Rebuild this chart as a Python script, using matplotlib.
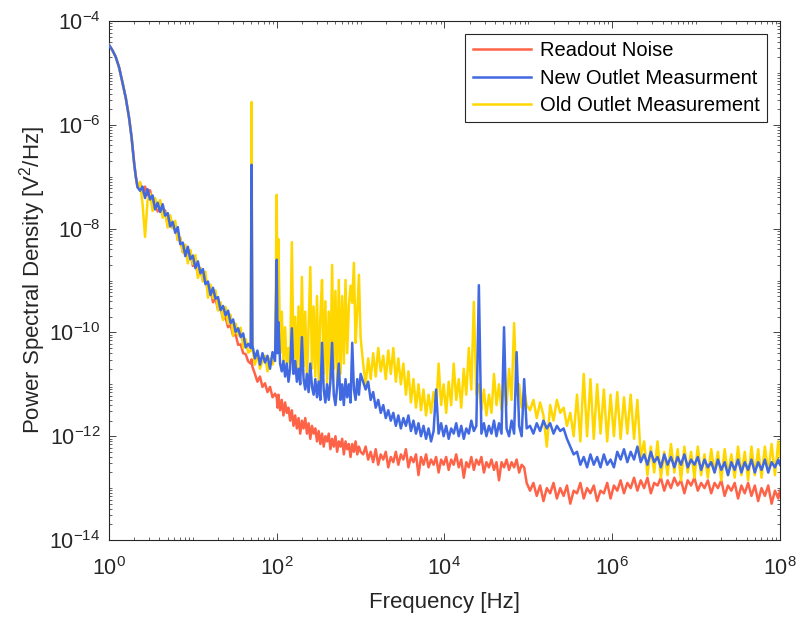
import matplotlib
matplotlib.use('Agg')
import matplotlib.pyplot as plt
import numpy as np
from matplotlib.ticker import FixedLocator, LogLocator, LogFormatterMathtext, NullFormatter

plt.rcParams['font.family'] = ['Liberation Sans', 'DejaVu Sans']
plt.rcParams['mathtext.fontset'] = 'custom'
plt.rcParams['mathtext.rm'] = 'Liberation Sans'
plt.rcParams['mathtext.it'] = 'Liberation Sans:italic'
plt.rcParams['mathtext.default'] = 'regular'
plt.rcParams['axes.unicode_minus'] = False

# frequency, as log10(Hz)
freq_exp = [
    0.00, 0.04, 0.08, 0.12, 0.16, 0.20, 0.24, 0.27, 0.30, 0.32, 0.34,
    0.37, 0.40, 0.43, 0.46, 0.49, 0.52, 0.55, 0.58, 0.61, 0.64, 0.67,
    0.70, 0.73, 0.76, 0.79, 0.82, 0.85, 0.88, 0.91, 0.94, 0.97, 1.00,
    1.03, 1.06, 1.09, 1.12, 1.15, 1.18, 1.21, 1.24, 1.27, 1.30, 1.33,
    1.36, 1.39, 1.42, 1.45, 1.48, 1.51, 1.54, 1.57, 1.60, 1.63, 1.66,
    1.69, 1.70, 1.71,
    1.74, 1.77, 1.80, 1.83, 1.86, 1.89, 1.92, 1.95, 1.98,
    2.00, 2.01, 2.02, 2.04, 2.06, 2.08, 2.10, 2.12, 2.14, 2.16,
    2.18, 2.20, 2.22, 2.24, 2.26, 2.28, 2.30, 2.32, 2.34, 2.36,
    2.38, 2.40, 2.42, 2.44, 2.46, 2.48, 2.50, 2.52, 2.54, 2.56,
    2.58, 2.60, 2.62, 2.64, 2.66, 2.68, 2.70, 2.72, 2.74, 2.76,
    2.78, 2.80, 2.82, 2.84, 2.86, 2.88, 2.90, 2.92, 2.94, 2.96,
    2.98, 3.00,
    3.03, 3.06, 3.09, 3.12, 3.15, 3.18, 3.21, 3.24, 3.27, 3.30,
    3.33, 3.36, 3.39, 3.42, 3.45, 3.48, 3.51, 3.54, 3.57, 3.60,
    3.63, 3.66, 3.69, 3.72, 3.75, 3.78, 3.81, 3.84, 3.87, 3.90,
    3.93, 3.96, 3.99, 4.02, 4.05, 4.08, 4.11, 4.14, 4.17, 4.20,
    4.23, 4.26, 4.29, 4.32, 4.35, 4.38, 4.41, 4.44, 4.47, 4.50,
    4.53, 4.56, 4.59, 4.62, 4.65, 4.68, 4.71, 4.74, 4.77, 4.80,
    4.83, 4.86, 4.89, 4.92, 4.95, 4.98,
    5.02, 5.06, 5.10, 5.14, 5.18, 5.22, 5.26, 5.30, 5.34, 5.38,
    5.42, 5.46, 5.50, 5.54, 5.58, 5.62, 5.66, 5.70, 5.74, 5.78,
    5.82, 5.86, 5.90, 5.94, 5.98, 6.02, 6.06, 6.10, 6.14, 6.18,
    6.22, 6.26, 6.30, 6.34, 6.38, 6.42, 6.46, 6.50, 6.54, 6.58,
    6.62, 6.66, 6.70, 6.74, 6.78, 6.82, 6.86, 6.90, 6.94, 6.98,
    7.02, 7.06, 7.10, 7.14, 7.18, 7.22, 7.26, 7.30, 7.34, 7.38,
    7.42, 7.46, 7.50, 7.54, 7.58, 7.62, 7.66, 7.70, 7.74, 7.78,
    7.82, 7.86, 7.90, 7.94, 7.98, 8.00,
]

# PSD as log10(V^2/Hz)
readout_exp = [
    -4.46, -4.56, -4.69, -4.89, -5.18, -5.48, -5.87, -6.25, -6.74, -7.00, -7.20,
    -7.12, -7.32, -7.19, -7.36, -7.26, -7.54, -7.45, -7.67, -7.50, -7.71, -7.65,
    -7.95, -7.81, -7.99, -7.91, -8.22, -8.19, -8.45, -8.34, -8.56, -8.43, -8.72,
    -8.64, -8.89, -8.76, -9.00, -8.95, -9.21, -9.14, -9.42, -9.35, -9.56, -9.52,
    -9.74, -9.71, -9.90, -9.86, -10.06, -10.04, -10.24, -10.23, -10.40, -10.42, -10.56,
    -10.60, -10.52, -10.66,
    -10.80, -10.95, -10.85, -11.05, -10.98, -11.15, -11.05, -11.25, -11.18,
    -11.25, -11.45, -11.20, -11.50, -11.30, -11.60, -11.35, -11.55, -11.45, -11.70,
    -11.50, -11.80, -11.60, -11.85, -11.65, -11.95, -11.70, -11.85, -11.65, -11.95,
    -11.75, -12.05, -11.80, -11.95, -11.85, -12.10, -11.90, -12.15, -11.95, -12.20,
    -12.00, -12.10, -11.95, -12.25, -12.05, -12.20, -12.00, -12.30, -12.10, -12.20,
    -12.05, -12.35, -12.10, -12.25, -12.15, -12.40, -12.15, -12.30, -12.10, -12.35,
    -12.20, -12.30,
    -12.35, -12.20, -12.45, -12.30, -12.50, -12.25, -12.55, -12.35, -12.45, -12.30,
    -12.60, -12.40, -12.50, -12.30, -12.55, -12.35, -12.45, -12.25, -12.60, -12.40,
    -12.50, -12.35, -12.75, -12.40, -12.55, -12.35, -12.60, -12.45, -12.55, -12.40,
    -12.70, -12.45, -12.55, -12.40, -12.65, -12.45, -12.55, -12.35, -12.60, -12.45,
    -12.80, -12.50, -12.60, -12.40, -12.65, -12.45, -12.55, -12.40, -12.70, -12.50,
    -12.60, -12.45, -12.65, -12.50, -12.85, -12.50, -12.60, -12.45, -12.65, -12.50,
    -12.60, -12.45, -12.70, -12.55, -12.60, -12.90,
    -13.05, -12.90, -13.15, -12.95, -13.25, -13.00, -13.10, -12.90, -13.20, -13.00,
    -13.15, -12.95, -13.30, -13.05, -13.10, -12.90, -13.20, -13.00, -13.10, -12.95,
    -13.25, -13.05, -13.10, -12.90, -13.20, -12.95, -13.05, -12.85, -13.10, -12.90,
    -13.00, -12.80, -13.05, -12.85, -13.00, -12.80, -13.10, -12.90, -12.95, -12.80,
    -13.05, -12.85, -13.00, -12.80, -12.95, -12.85, -13.10, -12.85, -12.95, -12.80,
    -13.05, -12.90, -13.00, -12.85, -13.10, -12.90, -13.00, -12.85, -13.15, -12.95,
    -13.05, -12.90, -13.20, -12.95, -13.10, -12.90, -13.15, -12.95, -13.25, -13.00,
    -13.15, -12.95, -13.30, -13.05, -13.20, -13.05,
]

new_outlet_exp = [
    -4.46, -4.56, -4.69, -4.89, -5.18, -5.48, -5.87, -6.25, -6.74, -7.00, -7.20,
    -7.27, -7.19, -7.41, -7.24, -7.44, -7.36, -7.63, -7.50, -7.68, -7.53, -7.75,
    -7.70, -7.96, -7.87, -8.08, -7.97, -8.30, -8.27, -8.53, -8.35, -8.59, -8.52,
    -8.76, -8.63, -8.86, -8.78, -9.07, -9.02, -9.28, -9.14, -9.35, -9.32, -9.57,
    -9.49, -9.67, -9.58, -9.82, -9.75, -9.99, -9.92, -10.09, -10.02, -10.29, -10.22,
    -10.30, -6.77, -10.25,
    -10.50, -10.35, -10.62, -10.40, -10.58, -10.45, -10.70, -10.38, -10.55,
    -8.60, -10.40, -9.80, -10.60, -10.75, -10.55, -10.85, -10.60, -10.95, -10.70,
    -9.92, -10.80, -10.55, -10.95, -10.70, -11.00, -10.09, -10.90, -11.10, -10.80,
    -11.15, -10.60, -11.05, -11.20, -10.90, -11.25, -10.95, -11.30, -10.20, -11.10,
    -11.35, -11.00, -11.30, -10.95, -10.20, -11.20, -11.40, -11.05, -10.60, -11.30,
    -11.00, -11.40, -10.90, -11.25, -11.00, -11.35, -10.20, -11.10, -11.30, -10.90,
    -11.20, -10.80,
    -10.95, -11.10, -10.95, -11.30, -11.15, -11.45, -11.30, -11.55, -11.40, -11.65,
    -11.50, -11.70, -11.55, -11.80, -11.60, -11.85, -11.65, -11.80, -11.60, -11.90,
    -11.70, -11.95, -11.75, -12.00, -11.80, -12.05, -11.85, -12.10, -11.90, -11.10,
    -11.95, -11.75, -12.00, -11.80, -12.05, -11.85, -11.95, -11.75, -12.00, -11.80,
    -12.05, -11.85, -11.95, -11.70, -11.90, -11.80, -9.09, -11.95, -11.75, -12.00,
    -11.80, -11.95, -11.70, -12.00, -11.75, -11.95, -9.90, -11.85, -12.00, -11.70,
    -11.95, -10.38, -11.80, -12.00, -10.90, -11.85,
    -11.80, -11.95, -11.75, -11.90, -11.70, -11.85, -11.75, -11.95, -11.80, -11.90,
    -11.85, -12.05, -12.20, -12.35, -12.30, -12.55, -12.40, -12.60, -12.35, -12.55,
    -12.40, -12.60, -12.35, -12.55, -12.45, -12.60, -12.30, -12.45, -12.25, -12.50,
    -12.30, -12.45, -12.20, -12.50, -12.35, -12.55, -12.30, -12.50, -12.40, -12.60,
    -12.35, -12.55, -12.40, -12.60, -12.40, -12.55, -12.35, -12.60, -12.45, -12.55,
    -12.40, -12.65, -12.45, -12.60, -12.50, -12.70, -12.45, -12.65, -12.50, -12.75,
    -12.50, -12.65, -12.45, -12.70, -12.50, -12.65, -12.45, -12.70, -12.50, -12.65,
    -12.45, -12.70, -12.50, -12.60, -12.45, -12.55,
]

old_outlet_exp = [
    -4.46, -4.56, -4.69, -4.89, -5.18, -5.48, -5.87, -6.25, -6.74, -7.00, -7.20,
    -7.10, -7.52, -8.16, -7.46, -7.33, -7.66, -7.41, -7.60, -7.45, -7.79, -7.68,
    -7.98, -7.74, -7.99, -7.85, -8.22, -8.17, -8.46, -8.31, -8.67, -8.41, -8.68,
    -8.51, -8.95, -8.76, -9.02, -8.83, -9.33, -9.08, -9.34, -9.19, -9.58, -9.42,
    -9.76, -9.51, -9.83, -9.66, -10.06, -9.83, -10.06, -9.91, -10.30, -10.13, -10.39,
    -10.35, -5.56, -10.30,
    -10.62, -10.40, -10.70, -10.55, -10.45, -10.75, -10.50, -10.62, -10.45,
    -7.35, -10.30, -8.20, -10.40, -9.60, -10.55, -9.90, -10.70, -10.30, -10.60,
    -8.26, -10.50, -9.70, -10.75, -9.50, -10.80, -8.93, -10.65, -9.60, -10.90,
    -9.90, -8.74, -10.70, -9.50, -10.85, -9.30, -10.95, -9.70, -8.99, -10.80,
    -9.40, -11.00, -9.60, -10.90, -8.70, -10.70, -9.20, -10.95, -8.99, -10.80,
    -9.30, -10.60, -8.99, -10.40, -9.50, -9.10, -9.43, -8.66, -10.20, -9.60,
    -8.89, -10.10,
    -10.60, -11.00, -10.50, -10.90, -10.40, -10.85, -10.30, -10.75, -10.45, -10.90,
    -10.35, -10.80, -10.30, -10.95, -10.50, -11.00, -10.60, -11.20, -10.75, -11.35,
    -10.90, -11.45, -11.00, -11.50, -11.10, -11.60, -11.20, -11.55, -11.15, -11.50,
    -10.60, -11.40, -11.00, -11.55, -10.95, -11.40, -10.60, -11.30, -10.90, -11.45,
    -10.70, -11.20, -10.30, -11.10, -9.41, -11.20, -11.00, -11.50, -11.10, -11.60,
    -11.20, -11.55, -10.80, -11.40, -11.00, -11.50, -10.90, -11.40, -10.70, -11.30,
    -9.82, -11.20, -11.00, -11.45, -11.10, -11.40,
    -11.50, -11.30, -11.65, -11.35, -11.60, -12.20, -11.40, -11.70, -11.30, -11.55,
    -11.45, -11.80, -11.55, -12.00, -11.20, -12.10, -10.80, -12.00, -10.90, -12.05,
    -11.00, -11.95, -11.10, -12.10, -11.20, -12.00, -11.15, -12.05, -11.25, -11.95,
    -11.20, -12.05, -11.30, -12.40, -12.10, -12.75, -12.20, -12.70, -12.10, -12.80,
    -12.30, -12.75, -12.15, -12.70, -12.25, -12.85, -12.20, -12.70, -12.30, -12.80,
    -12.20, -12.75, -12.35, -12.80, -12.25, -12.70, -12.30, -12.85, -12.25, -12.75,
    -12.35, -12.80, -12.20, -12.75, -12.30, -12.85, -12.20, -12.75, -12.25, -12.80,
    -12.20, -12.70, -12.15, -12.75, -12.10, -12.40,
]

labels = ['Readout Noise', 'New Outlet Measurment', 'Old Outlet Measurement']

freq = 10.0 ** np.array(freq_exp)
readout = 10.0 ** np.array(readout_exp)
new_outlet = 10.0 ** np.array(new_outlet_exp)
old_outlet = 10.0 ** np.array(old_outlet_exp)

fig = plt.figure(figsize=(7.99, 6.24), dpi=100)
ax = fig.add_axes([0.1364, 0.1346, 0.8398, 0.8317])

l_red, = ax.plot(freq, readout, color='#FF6347', lw=1.8, zorder=2)
l_old, = ax.plot(freq, old_outlet, color='#FFD700', lw=1.8, zorder=3)
l_new, = ax.plot(freq, new_outlet, color='#4169E1', lw=1.8, zorder=4)

ax.set_xscale('log')
ax.set_yscale('log')
ax.set_xlim(1, 1e8)
ax.set_ylim(1e-14, 1e-4)

ax.xaxis.set_major_locator(FixedLocator(10.0 ** np.arange(0, 9, 2)))
ax.yaxis.set_major_locator(FixedLocator(10.0 ** np.arange(-14, -3, 2)))
for axis in (ax.xaxis, ax.yaxis):
    axis.set_minor_locator(LogLocator(base=10, subs=np.arange(1, 10), numticks=100))
    axis.set_minor_formatter(NullFormatter())
    axis.set_major_formatter(LogFormatterMathtext())

dark = '#262626'
ax.tick_params(which='both', direction='in', top=True, right=True, colors=dark, labelsize=15.5)
ax.tick_params(which='major', length=5, width=0.6)
ax.tick_params(which='minor', length=2.5, width=0.5)
ax.tick_params(axis='x', which='major', pad=12)
ax.tick_params(axis='y', which='major', pad=6)
for s in ax.spines.values():
    s.set_color(dark)
    s.set_linewidth(0.8)

ax.set_xlabel('Frequency [Hz]', fontsize=16, color=dark, labelpad=9)
ax.set_ylabel('Power Spectral Density [V$^2$/Hz]', fontsize=16, color=dark, labelpad=1)

leg = ax.legend([l_red, l_new, l_old], labels, loc='upper right', fontsize=14.5,
                frameon=True, fancybox=False, edgecolor=dark, framealpha=1,
                handlelength=2.9, handletextpad=0.45, labelspacing=0.42,
                borderaxespad=0.65, borderpad=0.35)
leg.get_frame().set_linewidth(0.8)

fig.savefig('out.png', dpi=100)
